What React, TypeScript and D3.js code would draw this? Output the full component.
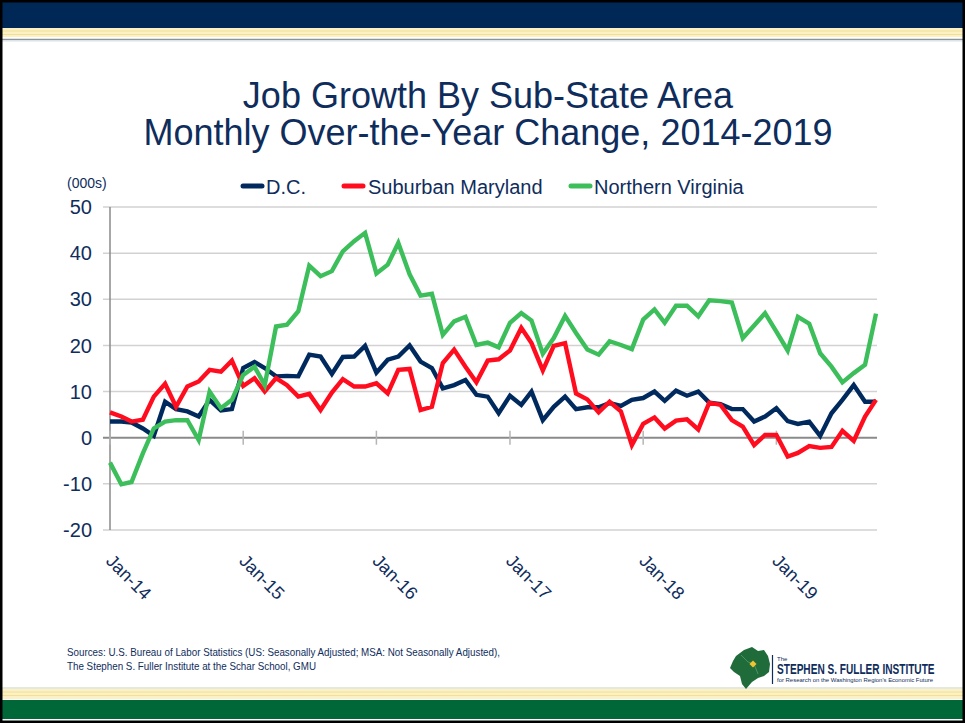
import React from "react";
import * as d3 from "d3";

const W = 965;
const H = 723;

const startMonth = new Date(2014, 0, 1);
const monthCount = 70;

const dcValues = [
  3.5, 3.5, 3.3, 2.0, 0.4, 7.8, 6.2, 5.7, 4.6, 8.2, 5.9, 6.2,
  15.1, 16.4, 15.1, 13.3, 13.4, 13.3, 18.0, 17.6, 13.8, 17.5, 17.6, 19.9,
  14.1, 16.9, 17.6, 20.0, 16.5, 15.1, 10.7, 11.4, 12.5, 9.3, 8.9, 5.3,
  9.1, 7.1, 10.0, 3.8, 6.7, 8.9, 6.2, 6.6, 6.6, 7.5, 6.9, 8.2,
  8.6, 10.0, 8.0, 10.2, 9.1, 10.0, 7.6, 7.3, 6.2, 6.2, 3.5, 4.6,
  6.4, 3.6, 3.0, 3.5, 0.4, 5.3, 8.2, 11.4, 7.8, 7.8,
];

const mdValues = [
  5.5, 4.6, 3.5, 3.9, 8.9, 11.7, 6.7, 11.1, 12.2, 14.7, 14.3, 16.7,
  11.2, 12.9, 10.0, 12.9, 11.4, 8.9, 9.5, 6.0, 9.8, 12.7, 11.1, 11.1,
  11.8, 9.6, 14.7, 14.9, 6.0, 6.7, 16.2, 19.1, 15.4, 12.0, 16.7, 17.0,
  18.9, 23.8, 20.5, 14.6, 19.9, 20.5, 9.6, 8.3, 5.5, 7.8, 5.7, -1.6,
  3.0, 4.4, 2.0, 3.7, 4.0, 1.8, 7.6, 7.1, 3.8, 2.4, -1.6, 0.6,
  0.6, -4.1, -3.3, -1.8, -2.2, -2.0, 1.5, -0.7, 4.6, 8.2,
];

const nvValues = [
  -5.4, -10.1, -9.6, -3.4, 2.0, 3.5, 3.8, 3.8, -0.5, 10.0, 6.4, 8.2,
  13.6, 15.4, 11.4, 24.1, 24.5, 27.4, 37.3, 35.0, 36.1, 40.4, 42.6, 44.4,
  35.6, 37.5, 42.2, 35.4, 30.8, 31.2, 22.3, 25.2, 26.2, 20.1, 20.6, 19.6,
  24.9, 27.0, 25.4, 18.2, 21.6, 26.4, 22.7, 19.1, 18.0, 20.9, 20.1, 19.2,
  25.6, 27.8, 24.9, 28.6, 28.6, 26.3, 29.8, 29.6, 29.3, 21.6, 24.3, 27.0,
  23.0, 18.9, 26.2, 24.7, 18.3, 15.4, 12.0, 14.0, 15.8, 26.9,
];

const yTicks = [50, 40, 30, 20, 10, 0, -10, -20];
const xTickLabels = ["Jan-14", "Jan-15", "Jan-16", "Jan-17", "Jan-18", "Jan-19"];
const xTickDates = [0, 1, 2, 3, 4, 5].map((k) => new Date(2014 + k, 0, 1));

const seriesNames = ["D.C.", "Suburban Maryland", "Northern Virginia"];
const seriesColors = ["#002a5e", "#ff0d1f", "#3cbe5a"];

const titleLines = ["Job Growth By Sub-State Area", "Monthly Over-the-Year Change, 2014-2019"];
const sourceLines = [
  "Sources: U.S. Bureau of Labor Statistics (US: Seasonally Adjusted; MSA: Not Seasonally Adjusted),",
  "The Stephen S. Fuller Institute at the Schar School, GMU",
];

const NAVY = "#0f2d5c";
const FONT = "'Liberation Sans', Arial, sans-serif";

export default function App() {
  const months = d3.range(monthCount).map((i) => d3.timeMonth.offset(startMonth, i));
  const x = d3
    .scaleTime()
    .domain([months[0], months[monthCount - 1]])
    .range([110, 876]);
  const y = d3.scaleLinear().domain([-20, 50]).range([530, 207]);

  const series = [dcValues, mdValues, nvValues];
  const line = d3
    .line<number>()
    .x((_, i) => x(months[i]))
    .y((v) => y(v));

  const legendItems = [
    { lx: 243, tx: 266 },
    { lx: 344, tx: 368 },
    { lx: 571, tx: 594 },
  ];

  return (
    <svg
      width={W}
      height={H}
      style={{ position: "absolute", left: 0, top: 0, background: "#fff" }}
      fontFamily={FONT}
    >
      {/* frame */}
      <rect x={0} y={0} width={W} height={H} fill="#fff" />
      <rect x={0} y={0} width={W} height={28} fill="#002857" />
      <rect x={0} y={28} width={W} height={9} fill="#fbf1c4" />
      <line x1={0} x2={W} y1={31} y2={31} stroke="#f3df96" strokeWidth={1} />
      <line x1={0} x2={W} y1={34.5} y2={34.5} stroke="#f3df96" strokeWidth={1} />
      <line x1={0} x2={W} y1={39.5} y2={39.5} stroke="#8a9499" strokeWidth={1.5} />
      <line x1={0} x2={W} y1={41} y2={41} stroke="#d8e2e6" strokeWidth={1} />

      <line x1={0} x2={W} y1={688} y2={688} stroke="#c9d3c0" strokeWidth={1} />
      <rect x={0} y={689} width={W} height={10} fill="#fbf1c4" />
      <line x1={0} x2={W} y1={692} y2={692} stroke="#f3df96" strokeWidth={1} />
      <line x1={0} x2={W} y1={695.5} y2={695.5} stroke="#f3df96" strokeWidth={1} />
      <rect x={0} y={700} width={W} height={19} fill="#006838" />
      <rect x={1} y={1} width={W - 2} height={H - 2} fill="none" stroke="#000" strokeWidth={3} />

      {/* title */}
      {titleLines.map((t, i) => (
        <text
          key={t}
          x={488}
          y={108 + i * 37}
          textAnchor="middle"
          fontSize={36}
          fill={NAVY}
        >
          {t}
        </text>
      ))}

      {/* units */}
      <text x={67} y={188} fontSize={14} fill={NAVY}>
        (000s)
      </text>

      {/* legend */}
      {seriesNames.map((n, i) => (
        <g key={n}>
          <line
            x1={legendItems[i].lx}
            x2={legendItems[i].lx + 19}
            y1={186}
            y2={186}
            stroke={seriesColors[i]}
            strokeWidth={5}
            strokeLinecap="round"
          />
          <text x={legendItems[i].tx} y={194} fontSize={20} fill={NAVY}>
            {n}
          </text>
        </g>
      ))}

      {/* gridlines */}
      {yTicks.map((t) => (
        <g key={t}>
          <line
            x1={103}
            x2={877}
            y1={y(t)}
            y2={y(t)}
            stroke={t === 0 ? "#8a8a8a" : "#d2d2d2"}
            strokeWidth={t === 0 ? 2 : 1.5}
          />
          <text
            x={92}
            y={y(t)}
            dy="0.36em"
            textAnchor="end"
            fontSize={20}
            fill={NAVY}
          >
            {t}
          </text>
        </g>
      ))}
      <line x1={110} x2={110} y1={207} y2={530} stroke="#8a8a8a" strokeWidth={1.5} />

      {/* x ticks */}
      {xTickDates.map((d, i) => (
        <g key={xTickLabels[i]}>
          <line
            x1={x(d)}
            x2={x(d)}
            y1={y(0) - 7}
            y2={y(0) + 7}
            stroke="#b5b5b5"
            strokeWidth={1.5}
          />
          <text
            transform={`translate(${x(d) - 5},${562}) rotate(45)`}
            fontSize={18}
            fill={NAVY}
          >
            {xTickLabels[i]}
          </text>
        </g>
      ))}

      {/* lines */}
      {series.map((s, i) => (
        <path
          key={seriesNames[i]}
          d={line(s) || ""}
          fill="none"
          stroke={seriesColors[i]}
          strokeWidth={4.4}
          strokeLinejoin="miter"
          strokeMiterlimit={3}
        />
      ))}

      {/* sources */}
      <text
        x={67}
        y={656}
        fontSize={11}
        fill={NAVY}
        textLength={433}
        lengthAdjust="spacingAndGlyphs"
      >
        {sourceLines[0]}
      </text>
      <text
        x={67}
        y={670}
        fontSize={11}
        fill={NAVY}
        textLength={249}
        lengthAdjust="spacingAndGlyphs"
      >
        {sourceLines[1]}
      </text>

      {/* logo */}
      <path
        d="M736,656 L744,650 L752,647 L758,651 L764,650 L768,656 L770,664 L769,672 L764,676 L758,678 L752,682 L746,689 L742,684 L740,676 L734,672 L730,668 L733,661 Z"
        fill="#1f6b3a"
      />
      <path d="M741,655 L748,662 L754,664 L758,674" fill="none" stroke="#5a9a6a" strokeWidth={0.8} />
      <rect x={750.5} y={661.5} width={5} height={5} fill="#f2c230" transform="rotate(45 753 664)" />
      <line x1={772.5} x2={772.5} y1={655} y2={684} stroke="#0f2d5c" strokeWidth={1.2} />
      <text x={777} y={661} fontSize={6} fill={NAVY}>
        The
      </text>
      <g transform="translate(777,674) scale(0.78,1)">
        <text
          x={0}
          y={0}
          fontSize={14}
          fontWeight="bold"
          fill={NAVY}
          textLength={202}
          lengthAdjust="spacingAndGlyphs"
        >
          STEPHEN S. FULLER INSTITUTE
        </text>
      </g>
      <text
        x={777}
        y={682}
        fontSize={6}
        fill={NAVY}
        textLength={156}
        lengthAdjust="spacingAndGlyphs"
      >
        for Research on the Washington Region's Economic Future
      </text>
    </svg>
  );
}
